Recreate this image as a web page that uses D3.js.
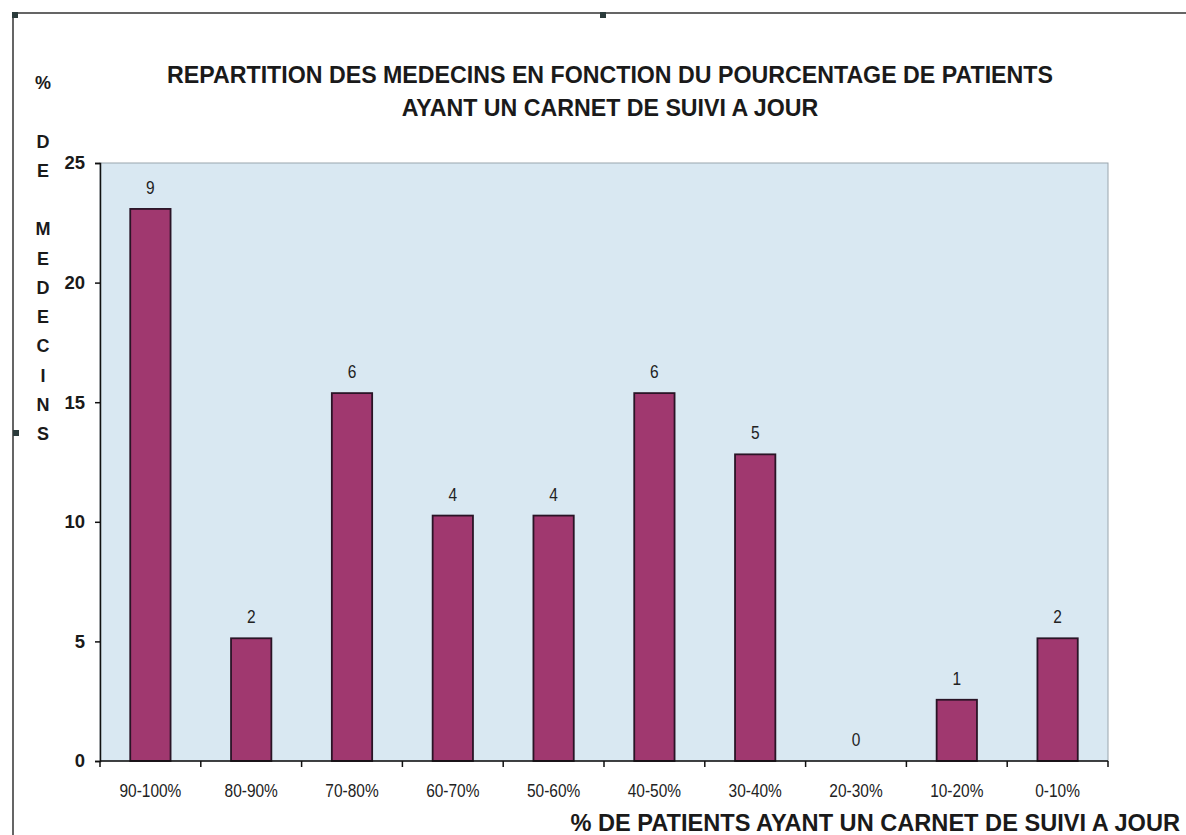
<!DOCTYPE html>
<html>
<head>
<meta charset="utf-8">
<script src="https://cdnjs.cloudflare.com/ajax/libs/d3/7.8.5/d3.min.js"></script>
<style>
  body { margin: 0; background: #fff; }
  svg { display: block; }
</style>
</head>
<body>
<div id="chart"></div>
<script>
// data
var categories = ['90-100%', '80-90%', '70-80%', '60-70%', '50-60%', '40-50%', '30-40%', '20-30%', '10-20%', '0-10%'];
var percentValues = [23.08, 5.13, 15.38, 10.26, 10.26, 15.38, 12.82, 0, 2.56, 5.13];
var countLabels = [9, 2, 6, 4, 4, 6, 5, 0, 1, 2];
var yTicks = [0, 5, 10, 15, 20, 25];
var titleLines = ['REPARTITION DES MEDECINS EN FONCTION DU POURCENTAGE DE PATIENTS', 'AYANT UN CARNET DE SUIVI A JOUR'];
var yTitleLetters = ['%', '', 'D', 'E', '', 'M', 'E', 'D', 'E', 'C', 'I', 'N', 'S'];
var xTitle = '% DE PATIENTS AYANT UN CARNET DE SUIVI A JOUR';

var attrs = {
  svgWidth: 1186,
  svgHeight: 835,
  marginTop: 163,
  marginLeft: 100,
  marginRight: 78,
  marginBottom: 74,
  barColor: '#a0386f',
  plotBg: '#d9e8f2',
  font: "'Liberation Sans', Arial, sans-serif",
  narrowScale: 0.86
};

var calc = {};
calc.chartWidth = attrs.svgWidth - attrs.marginLeft - attrs.marginRight;
calc.chartHeight = attrs.svgHeight - attrs.marginTop - attrs.marginBottom;

var svg = d3.select('#chart').append('svg')
  .attr('width', attrs.svgWidth)
  .attr('height', attrs.svgHeight);

// outer frame (top + left edges visible in the scan)
svg.append('path')
  .attr('d', 'M13,' + attrs.svgHeight + 'V13H' + attrs.svgWidth)
  .attr('fill', 'none')
  .attr('stroke', '#333')
  .attr('stroke-width', 1.5);

// little selection handles
[[15, 15], [603, 15], [16, 433]].forEach(function (p) {
  svg.append('rect').attr('x', p[0] - 3).attr('y', p[1] - 3)
    .attr('width', 6).attr('height', 6).attr('fill', '#2b3b3b');
});

// title
svg.append('g').selectAll('text')
  .data(titleLines)
  .enter().append('text')
  .attr('x', 610)
  .attr('y', function (d, i) { return 83 + i * 33; })
  .attr('text-anchor', 'middle')
  .attr('font-family', attrs.font)
  .attr('font-weight', 'bold')
  .attr('font-size', 23.2)
  .attr('fill', '#1a1a1a')
  .text(function (d) { return d; });

// vertical y title, one letter per line
svg.append('g').selectAll('text')
  .data(yTitleLetters)
  .enter().append('text')
  .attr('x', 43)
  .attr('y', function (d, i) { return 89 + i * 29.25; })
  .attr('text-anchor', 'middle')
  .attr('font-family', attrs.font)
  .attr('font-weight', 'bold')
  .attr('font-size', 18)
  .attr('fill', '#1a1a1a')
  .text(function (d) { return d; });

var chart = svg.append('g')
  .attr('transform', 'translate(' + attrs.marginLeft + ',' + attrs.marginTop + ')');

var xScale = d3.scaleBand()
  .domain(categories)
  .range([0, calc.chartWidth])
  .paddingInner(0.6)
  .paddingOuter(0.3);

var xBoundary = d3.scaleBand()
  .domain(categories)
  .range([0, calc.chartWidth]);

var yScale = d3.scaleLinear()
  .domain([0, 25])
  .range([calc.chartHeight, 0]);

// plot area
chart.append('rect')
  .attr('width', calc.chartWidth)
  .attr('height', calc.chartHeight)
  .attr('fill', attrs.plotBg)
  .attr('stroke', '#9aa6ae')
  .attr('stroke-width', 1);

// bars
chart.append('g').selectAll('rect')
  .data(percentValues)
  .enter().append('rect')
  .attr('x', function (d, i) { return xScale(categories[i]); })
  .attr('y', function (d) { return yScale(d); })
  .attr('width', xScale.bandwidth())
  .attr('height', function (d) { return calc.chartHeight - yScale(d); })
  .attr('fill', attrs.barColor)
  .attr('stroke', '#2a1426')
  .attr('stroke-width', function (d) { return d > 0 ? 1.8 : 0; });

// count labels (narrow look via horizontal scale)
chart.append('g').selectAll('text')
  .data(percentValues)
  .enter().append('text')
  .attr('transform', function (d, i) {
    return 'translate(' + (xScale(categories[i]) + xScale.bandwidth() / 2) + ',' + (yScale(d) - 15) + ') scale(' + attrs.narrowScale + ',1)';
  })
  .attr('text-anchor', 'middle')
  .attr('font-family', attrs.font)
  .attr('font-size', 18)
  .attr('fill', '#222')
  .text(function (d, i) { return countLabels[i]; });

// y axis
var yAxis = d3.axisLeft(yScale).tickValues(yTicks).tickSize(5).tickPadding(10);
var yG = chart.append('g').call(yAxis);
yG.select('.domain').attr('stroke', '#111').attr('stroke-width', 1.5);
yG.selectAll('.tick line').attr('stroke', '#111').attr('stroke-width', 1.5);
yG.selectAll('.tick text')
  .attr('font-family', attrs.font)
  .attr('font-weight', 'bold')
  .attr('font-size', 18.5)
  .attr('fill', '#1a1a1a');

// x axis with ticks on category boundaries
var xG = chart.append('g').attr('transform', 'translate(0,' + calc.chartHeight + ')');
xG.append('line')
  .attr('x1', 0).attr('x2', calc.chartWidth)
  .attr('stroke', '#111').attr('stroke-width', 1.5);
xG.selectAll('.bt')
  .data(categories.concat(['end']))
  .enter().append('line')
  .attr('class', 'bt')
  .attr('x1', function (d, i) { return i * xBoundary.step(); })
  .attr('x2', function (d, i) { return i * xBoundary.step(); })
  .attr('y1', 0).attr('y2', 6)
  .attr('stroke', '#111').attr('stroke-width', 1.5);
xG.selectAll('.xl')
  .data(categories)
  .enter().append('text')
  .attr('class', 'xl')
  .attr('transform', function (d) {
    return 'translate(' + (xBoundary(d) + xBoundary.bandwidth() / 2) + ',36) scale(' + attrs.narrowScale + ',1)';
  })
  .attr('text-anchor', 'middle')
  .attr('font-family', attrs.font)
  .attr('font-size', 18)
  .attr('fill', '#222')
  .text(function (d) { return d; });

// x title
svg.append('text')
  .attr('x', 1180)
  .attr('y', 831)
  .attr('text-anchor', 'end')
  .attr('font-family', attrs.font)
  .attr('font-weight', 'bold')
  .attr('font-size', 23.6)
  .attr('fill', '#1a1a1a')
  .text(xTitle);
</script>
</body>
</html>
